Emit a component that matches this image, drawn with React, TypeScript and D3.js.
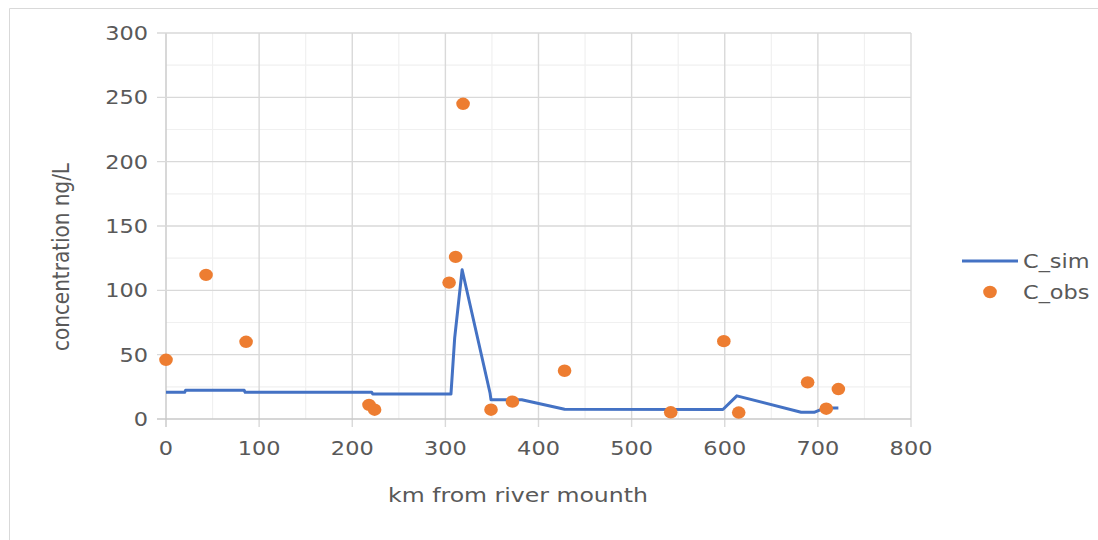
import React from "react";
import * as d3 from "d3";

const simKm = [0, 20, 21, 84, 85, 221, 222, 306, 310, 318, 348, 349, 382, 428, 598, 613, 682, 696, 707, 722];
const simVal = [20.7, 20.7, 22.3, 22.3, 20.7, 20.7, 19.4, 19.4, 63, 116, 20, 15, 15, 7.6, 7.4, 18, 5.2, 5.2, 8.5, 8.5];

const obsKm = [0, 43, 86, 218, 224, 304, 311, 319, 349, 372, 428, 542, 599, 615, 689, 709, 722];
const obsVal = [46, 112, 60, 11, 7.2, 106, 126, 245, 7.2, 13.5, 37.5, 5.2, 60.5, 5, 28.5, 8, 23.3];

const xTicks = [0, 100, 200, 300, 400, 500, 600, 700, 800];
const yTicks = [0, 50, 100, 150, 200, 250, 300];
const xMinor = [50, 150, 250, 350, 450, 550, 650, 750];
const yMinor = [25, 75, 125, 175, 225, 275];

const seriesNames = ["C_sim", "C_obs"];

const FONT = "'DejaVu Sans', sans-serif";
const GRAY = "#595959";
const SX = 1.18;

function T(props: { x: number; y: number; anchor?: string; size: number; rotate?: number; children: React.ReactNode }) {
  const { x, y, anchor = "start", size, rotate = 0, children } = props;
  return (
    <text
      transform={`translate(${x},${y}) scale(${SX},1)${rotate ? ` rotate(${rotate})` : ""}`}
      textAnchor={anchor}
      fontFamily={FONT}
      fontSize={size}
      fill={GRAY}
    >
      {children}
    </text>
  );
}

export default function App() {
  const W = 1098, H = 540;
  const x = d3.scaleLinear().domain([0, 800]).range([166, 911]);
  const y = d3.scaleLinear().domain([0, 300]).range([419, 33]);
  const line = d3.line<number>().x((d, i) => x(simKm[i])).y((d) => y(d));
  return (
    <svg width={W} height={H} style={{ position: "absolute", left: 0, top: 0, background: "#fff" }}>
      <rect x={0} y={0} width={W} height={H} fill="#fff" />
      <path d={`M9.5,${H} V8.5 H${W}`} fill="none" stroke="#d9d9d9" strokeWidth={1} />
      {xMinor.map((t) => (
        <line key={"xm" + t} x1={x(t)} x2={x(t)} y1={y(300)} y2={y(0)} stroke="#f0f0f0" strokeWidth={1.2} />
      ))}
      {yMinor.map((t) => (
        <line key={"ym" + t} x1={x(0)} x2={x(800)} y1={y(t)} y2={y(t)} stroke="#f0f0f0" strokeWidth={1.2} />
      ))}
      {xTicks.map((t) => (
        <line key={"xg" + t} x1={x(t)} x2={x(t)} y1={y(300)} y2={y(0) + 8} stroke={t === 0 ? "#c8c8c8" : "#d9d9d9"} strokeWidth={1.4} />
      ))}
      {yTicks.map((t) => (
        <line key={"yg" + t} x1={x(0) - 9} x2={x(800)} y1={y(t)} y2={y(t)} stroke={t === 0 ? "#c8c8c8" : "#d9d9d9"} strokeWidth={1.4} />
      ))}
      {xTicks.map((t) => (
        <T key={"xt" + t} x={x(t)} y={455} anchor="middle" size={19}>{t}</T>
      ))}
      {yTicks.map((t) => (
        <T key={"yt" + t} x={148} y={y(t) + 7} anchor="end" size={19}>{t}</T>
      ))}
      <T x={518} y={502} anchor="middle" size={20}>km from river mounth</T>
      <T x={69} y={257} anchor="middle" size={20} rotate={-90}>concentration ng/L</T>
      <path d={line(simVal) || ""} fill="none" stroke="#4472C4" strokeWidth={3} strokeLinejoin="round" />
      {obsVal.map((v, i) => (
        <ellipse key={"o" + i} cx={x(obsKm[i])} cy={y(v)} rx={6.8} ry={6.2} fill="#ED7D31" />
      ))}
      <line x1={962} x2={1018} y1={261} y2={261} stroke="#4472C4" strokeWidth={3} />
      <T x={1023} y={268} size={19}>{seriesNames[0]}</T>
      <ellipse cx={990} cy={292} rx={6.8} ry={6.2} fill="#ED7D31" />
      <T x={1023} y={299} size={19}>{seriesNames[1]}</T>
    </svg>
  );
}
